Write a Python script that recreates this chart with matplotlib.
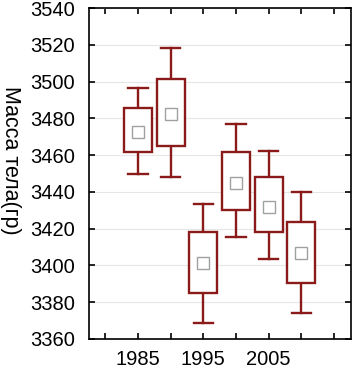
import matplotlib
matplotlib.use("Agg")
import matplotlib.pyplot as plt
from matplotlib.patches import Rectangle
from matplotlib.ticker import MultipleLocator, FixedLocator

years = [1985, 1990, 1995, 2000, 2005, 2010]
means = [3472.6, 3482.4, 3401.3, 3445.0, 3431.8, 3406.8]
box_hi = [3485.6, 3501.4, 3418.2, 3461.7, 3448.0, 3423.6]
box_lo = [3461.7, 3465.0, 3385.0, 3430.2, 3418.2, 3390.5]
whisk_hi = [3496.5, 3518.2, 3433.4, 3476.9, 3462.2, 3440.0]
whisk_lo = [3449.7, 3448.0, 3368.7, 3415.5, 3403.5, 3374.0]
xtick_labels = [1985, 1995, 2005]

plt.rcParams['font.family'] = ['Liberation Sans', 'DejaVu Sans']

fig = plt.figure(figsize=(3.52, 3.70), dpi=100)
ax = fig.add_axes([89/352, 1 - 339/370, (351-89)/352, (339-8)/370])

col = '#8B1A1A'
bw = 4.3
cw = 3.0
lw = 1.7
for x, m, bh, bl, wh, wl in zip(years, means, box_hi, box_lo, whisk_hi, whisk_lo):
    ax.add_patch(Rectangle((x - bw/2, bl), bw, bh - bl, facecolor='white',
                           edgecolor=col, lw=lw, zorder=3))
    ax.plot([x, x], [bh, wh], color=col, lw=lw, zorder=2)
    ax.plot([x, x], [wl, bl], color=col, lw=lw, zorder=2)
    ax.plot([x - cw/2, x + cw/2], [wh, wh], color=col, lw=lw, zorder=2)
    ax.plot([x - cw/2, x + cw/2], [wl, wl], color=col, lw=lw, zorder=2)
    ax.plot([x], [m], marker='s', ms=9, mfc='white', mec='#a0a0a0', mew=1.0, zorder=4)

ax.set_xlim(1977.5, 2017.6)
ax.set_ylim(3360, 3540)
ax.yaxis.set_major_locator(MultipleLocator(20))
ax.xaxis.set_major_locator(FixedLocator(xtick_labels))
ax.xaxis.set_minor_locator(MultipleLocator(5))
ax.grid(axis='y', color='#e6e6e6', lw=0.8, zorder=0)
ax.set_axisbelow(True)
ax.tick_params(axis='both', which='both', direction='in', top=True, right=True,
               labelsize=14.5, width=1.2, color='black')
ax.tick_params(axis='both', which='major', length=4)
ax.tick_params(axis='both', which='minor', length=4)
ax.tick_params(axis='x', pad=8)
ax.tick_params(axis='y', pad=10)
for s in ax.spines.values():
    s.set_linewidth(1.2)
ax.set_ylabel('Масса тела(гр)', rotation=270, fontsize=15.5)
ax.yaxis.set_label_coords(-0.30, 0.54)
ax.yaxis.label.set_va('center')

fig.savefig('out.png', dpi=100)
